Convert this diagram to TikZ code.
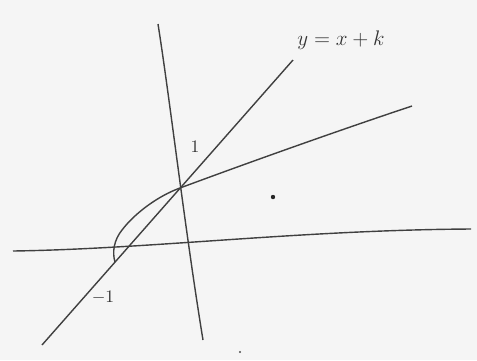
\documentclass[tikz,border=0pt]{standalone}
\begin{document}
\begin{tikzpicture}[x=0.02cm,y=-0.02cm]

    \fill[black!4] (0,0) rectangle (477,360);
    \useasboundingbox (0,0) rectangle (477,360);

            %axes
            \draw[thick,black!75] (13,251) .. controls (150,249) and (300,230) .. (471,229);
            \draw[thick,black!75] (158,24) .. controls (170,100) and (185,230) .. (203,340);

            %line and curve
            \draw[thick,black!75] (42,345) -- (293,60);
            \draw[thick,black!75] (115,262) .. controls (112,252) and (114,240) .. (122,230) .. controls (135,213) and (158,196) .. (180,188) .. controls (250,162) and (340,130) .. (412,106);

            %labels
            \node[black!80] (eq) at (341,40) {\large $y=x+k$};
            \node[black!80] (one) at (195,147) {$1$};
            \node[black!80] (minusone) at (103,298) {$-1$};

            %dots
            \fill[black!85] (273,197) circle (2.2);
            \fill[black!70] (240,352) circle (1.2);
        \end{tikzpicture}
\end{document}
